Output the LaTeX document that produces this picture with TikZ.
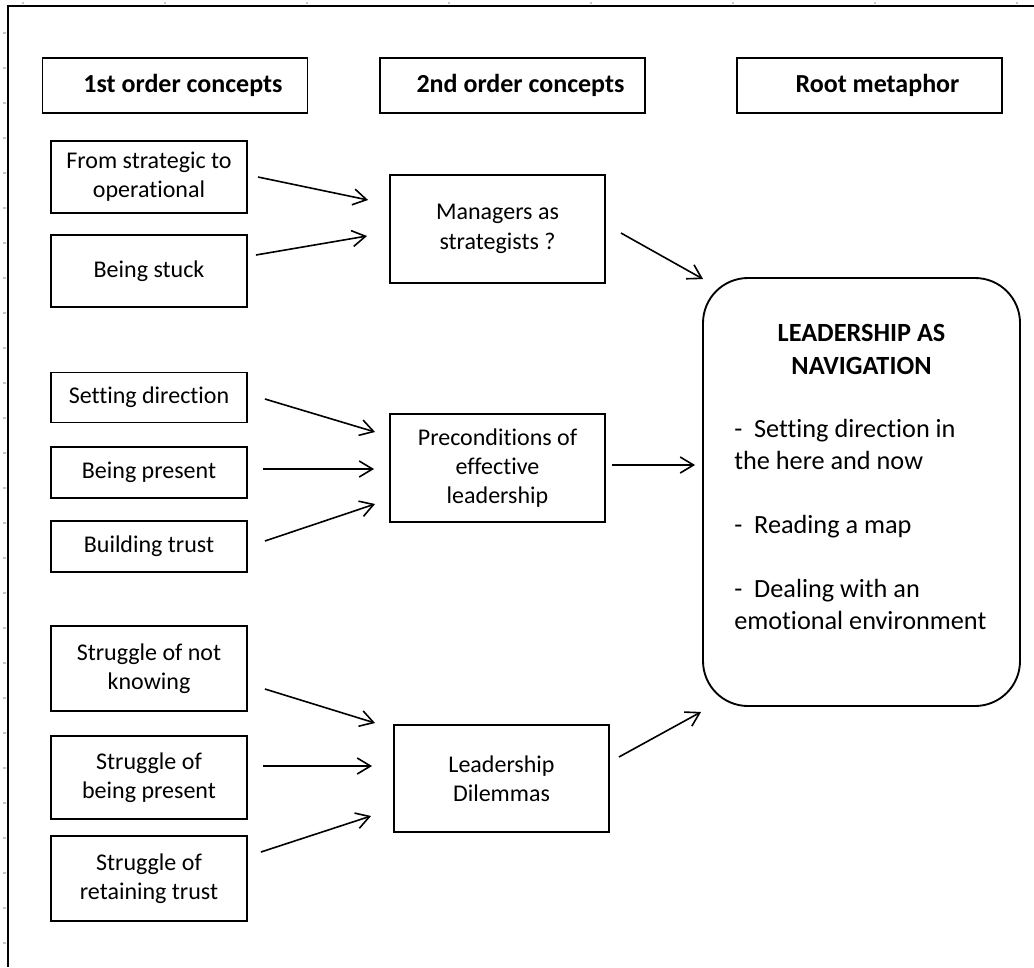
\documentclass[tikz,border=0pt]{standalone}
\usepackage{fontspec}
\setmainfont[Ligatures={NoCommon,NoContextual}]{Carlito}
\usetikzlibrary{arrows.meta,calc}

\begin{document}
\begin{tikzpicture}[x=0.75pt,y=0.75pt,yscale=-1,xscale=1,
  box/.style={draw,line width=1.4pt,inner sep=0pt,align=center,font=\fontsize{18}{22}\selectfont},
  headbox/.style={box,minimum width=198.75pt,minimum height=41.25pt,font=\fontsize{19.5}{22}\selectfont\bfseries,execute at begin node={\hspace*{12pt}}},
  leftbox/.style={box,minimum width=147pt},
  midbox/.style={box,minimum width=161.25pt,minimum height=80.5pt},
  arr/.style={line width=1.2pt,-{Straight Barb[length=10pt,width=12pt]}},
  tick/.style={gray!45,line width=0.8pt}
]
\useasboundingbox (0,0) rectangle (1034,967);

%Page frame
\draw [line width=1.5pt] (1034,6) -- (8,6) -- (8,967) ;
\foreach \ty in {33,68,...,943} \draw [tick] (3,\ty) -- (6,\ty) ;
\foreach \tx in {23,165,...,1017} \draw [tick] (\tx,1.5) -- (\tx,3.5) ;

% Header Nodes
\node [headbox] (h1) at (175,85.5) {1st order concepts};
\node [headbox] (h2) at (512.5,85.5) {2nd order concepts};
\node [headbox] (h3) at (869.5,85.5) {Root metaphor};

% 1st order Nodes
\node [leftbox,minimum height=54pt] (fso) at (149,177) {From strategic to\\operational};
\node [leftbox,minimum height=54pt] (stuck) at (149,271) {Being stuck};
\node [leftbox,minimum height=37.5pt] (setdir) at (149,397.5) {Setting direction};
\node [leftbox,minimum height=38pt] (bpres) at (149,472.5) {Being present};
\node [leftbox,minimum height=38pt] (btrust) at (149,546.5) {Building trust};
\node [leftbox,minimum height=63.5pt] (snk) at (149,668.5) {Struggle of not\\knowing};
\node [leftbox,minimum height=62.5pt] (sbp) at (149,777.5) {Struggle of\\being present};
\node [leftbox,minimum height=63.5pt] (srt) at (149,878.5) {Struggle of\\retaining trust};

% 2nd order Nodes
\node [midbox] (mgr) at (497.5,229) {Managers as\\strategists ?};
\node [midbox] (pre) at (497.5,468) {Preconditions of\\effective\\leadership};
\node [midbox] (dil) at (501.5,778.5) {Leadership\\Dilemmas};

% Root metaphor Node
\node [draw,line width=1.4pt,rounded corners=33.75pt,minimum width=237.75pt,minimum height=321pt] (nav) at (861.5,492) {};
\node [font=\fontsize{19.7}{24.75}\selectfont\bfseries,align=center,inner sep=0pt] (navtitle) at (861.5,349) {LEADERSHIP AS\\NAVIGATION};
\node [font=\fontsize{19.7}{24}\selectfont,align=left,inner sep=0pt,anchor=north west] (navlist) at (734,419) {-\ \ Setting direction in\\the here and now\\[24pt]-\ \ Reading a map\\[24pt]-\ \ Dealing with an\\emotional environment};

%Straight Lines
\draw [arr] ($(fso.east)+(10,0)$) -- ($(mgr.west)+(-21,-29)$) ;
\draw [arr] ($(stuck.east)+(8,-16)$) -- ($(mgr.west)+(-22,7)$) ;
\draw [arr] ($(setdir.east)+(17,1.5)$) -- ($(pre.west)+(-14,-36)$) ;
\draw [arr] ($(bpres.east)+(15,-3.5)$) -- ($(pre.west)+(-15,1)$) ;
\draw [arr] ($(btrust.east)+(17,-5.5)$) -- ($(pre.west)+(-14,36)$) ;
\draw [arr] ($(snk.east)+(17,20.5)$) -- ($(dil.west)+(-18,-55.5)$) ;
\draw [arr] ($(sbp.east)+(15,-11.5)$) -- ($(dil.west)+(-21,-12.5)$) ;
\draw [arr] ($(srt.east)+(13,-26.5)$) -- ($(dil.west)+(-22,37.5)$) ;
%Straight Lines
\draw [arr] ($(mgr.east)+(15,4)$) -- ($(nav.north west)+(1,2)$) ;
\draw [arr] ($(pre.east)+(6,-3)$) -- ($(nav.west)+(-7,-27)$) ;
\draw [arr] ($(dil.east)+(9,-21.5)$) -- ($(nav.south west)+(-1,5)$) ;

\end{tikzpicture}
\end{document}
